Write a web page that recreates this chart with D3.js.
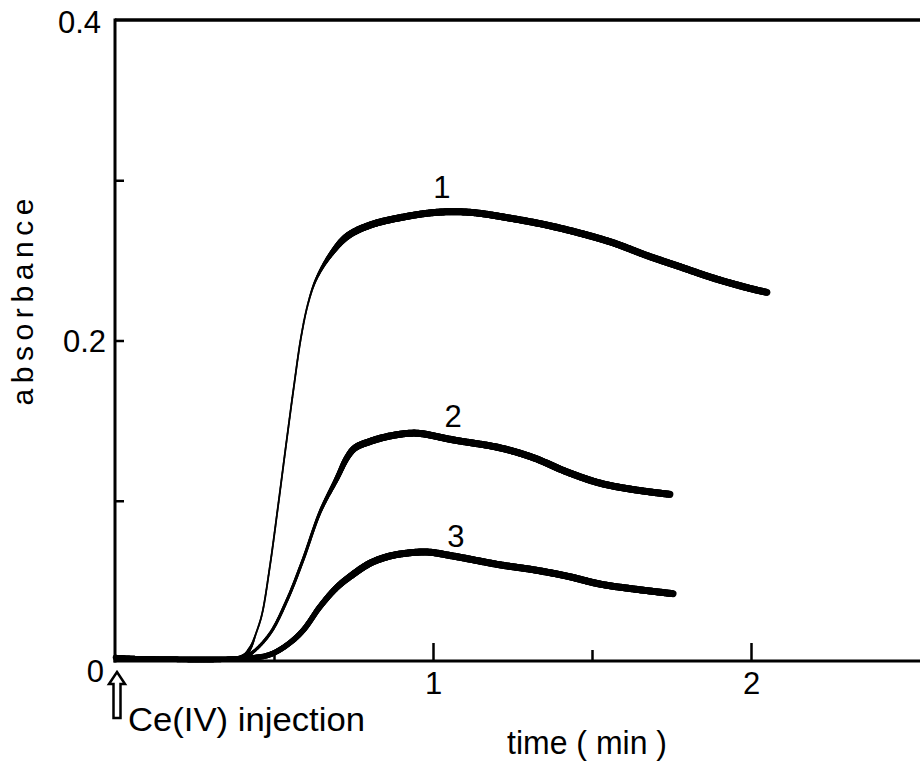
<!DOCTYPE html>
<html>
<head>
<meta charset="utf-8">
<script src="https://cdn.jsdelivr.net/npm/d3@7"></script>
<style>
  html, body { margin: 0; padding: 0; background: #fff; }
  svg { display: block; }
  text { font-family: "Liberation Sans", Arial, sans-serif; fill: #000; }
</style>
</head>
<body>
<svg id="chart" width="920" height="762"></svg>
<script>
// Absorbance traces after Ce(IV) injection (time in min)
const series1Time = [0, 0.40, 0.425, 0.443, 0.462, 0.487, 0.513, 0.538, 0.563, 0.585, 0.607, 0.632, 0.676, 0.730, 0.802, 0.906, 1.013, 1.116, 1.252, 1.358, 1.462, 1.566, 1.673, 1.777, 1.881, 1.987, 2.050];
const series1Abs  = [0.0025, 0.0025, 0.008, 0.017, 0.029, 0.059, 0.097, 0.135, 0.172, 0.202, 0.223, 0.238, 0.253, 0.265, 0.272, 0.277, 0.280, 0.280, 0.276, 0.272, 0.267, 0.261, 0.253, 0.246, 0.239, 0.233, 0.230];

const series2Time = [0, 0.40, 0.43, 0.487, 0.541, 0.591, 0.645, 0.698, 0.730, 0.755, 0.802, 0.855, 0.918, 0.959, 1.063, 1.211, 1.314, 1.421, 1.525, 1.629, 1.745];
const series2Abs  = [0.002, 0.002, 0.005, 0.017, 0.038, 0.063, 0.093, 0.114, 0.127, 0.133, 0.137, 0.140, 0.142, 0.142, 0.138, 0.133, 0.127, 0.118, 0.111, 0.107, 0.104];

const series3Time = [0, 0.43, 0.487, 0.541, 0.591, 0.645, 0.698, 0.748, 0.802, 0.855, 0.906, 0.981, 1.063, 1.211, 1.314, 1.421, 1.525, 1.629, 1.755];
const series3Abs  = [0.002, 0.002, 0.004, 0.010, 0.019, 0.034, 0.046, 0.054, 0.061, 0.065, 0.067, 0.068, 0.0655, 0.060, 0.057, 0.053, 0.048, 0.045, 0.042];

const seriesNames = ["1", "2", "3"];
const xTickValues = [0.5, 1, 1.5, 2];
const xTickLabels = ["", "1", "", "2"];
const yTickValues = [0.1, 0.2, 0.3, 0.4];
const yTickLabels = ["", "0.2", "", "0.4"];

const svg = d3.select("#chart");
const plotLeft = 115, plotTop = 20, plotBottom = 661, plotRight = 920;
const pxPerMin = 318;

const x = d3.scaleLinear().domain([0, (plotRight - plotLeft) / pxPerMin]).range([plotLeft, plotRight]);
const y = d3.scaleLinear().domain([0, 0.4]).range([plotBottom, plotTop]);

// frame: left axis, bottom axis, top rule
const g = svg.append("g");
g.append("line").attr("x1", plotLeft).attr("x2", plotRight).attr("y1", plotTop).attr("y2", plotTop)
  .attr("stroke", "#000").attr("stroke-width", 3.5);

const yAxis = d3.axisLeft(y).tickValues(yTickValues)
  .tickSizeInner(-9).tickSizeOuter(0).tickPadding(9)
  .tickFormat((d, i) => yTickLabels[i]);
const yg = g.append("g").attr("transform", `translate(${plotLeft},0)`).call(yAxis);
yg.select(".domain").attr("stroke-width", 3).attr("d", `M0,${plotTop - 1.5}V${plotBottom + 1.5}`);
yg.selectAll(".tick line").attr("stroke-width", 2.5);
yg.selectAll(".tick text").attr("font-size", 31).attr("font-family", "Liberation Sans, Arial, sans-serif")
  .attr("dy", "0.36em");
yg.selectAll(".tick").filter(d => d === 0.4).select("line").remove();
yg.selectAll(".tick").filter(d => d === 0.4).select("text").attr("x", -14).attr("dy", "0.40em");

const xAxis = d3.axisBottom(x).tickValues(xTickValues)
  .tickSizeInner(-18).tickSizeOuter(0).tickPadding(12)
  .tickFormat((d, i) => xTickLabels[i]);
const xg = g.append("g").attr("transform", `translate(0,${plotBottom})`).call(xAxis);
xg.select(".domain").attr("stroke-width", 3).attr("d", `M${plotLeft - 1.5},0H${plotRight}`);
xg.selectAll(".tick line").attr("stroke-width", 2.5)
  .attr("y2", d => Number.isInteger(d) ? -18 : -11);
xg.selectAll(".tick text").attr("font-size", 31).attr("font-family", "Liberation Sans, Arial, sans-serif")
  .attr("y", 11).attr("dy", "0.71em");

// origin label
svg.append("text").attr("x", plotLeft - 11).attr("y", plotBottom + 21)
  .attr("text-anchor", "end").attr("font-size", 31).text("0");

// axis titles
svg.append("text").attr("x", 507).attr("y", 754)
  .attr("font-size", 34).attr("textLength", 160).attr("lengthAdjust", "spacingAndGlyphs")
  .text("time ( min )");
svg.append("text")
  .attr("transform", "translate(33,302) rotate(-90)")
  .attr("text-anchor", "middle").attr("font-size", 30)
  .attr("textLength", 207).attr("lengthAdjust", "spacing")
  .text("absorbance");

// injection marker
const ax = x(0) + 2;
svg.append("path")
  .attr("d", `M${ax},${plotBottom + 11} L${ax + 8},${plotBottom + 23} L${ax + 3.5},${plotBottom + 23} L${ax + 3.5},${plotBottom + 57} L${ax - 3.5},${plotBottom + 57} L${ax - 3.5},${plotBottom + 23} L${ax - 8},${plotBottom + 23} Z`)
  .attr("fill", "#fff").attr("stroke", "#000").attr("stroke-width", 2.5).attr("stroke-linejoin", "miter");
svg.append("text").attr("x", 128).attr("y", 731)
  .attr("font-size", 34).attr("textLength", 237).attr("lengthAdjust", "spacingAndGlyphs")
  .text("Ce(IV) injection");

// traces: pen weight grows from the fast rise onto the plateau
const series = [
  { name: seriesNames[0], t: series1Time, a: series1Abs, rise: 1.8, plateau: 7, w0: 0.60, w1: 0.74, label: [1.028, 0.289] },
  { name: seriesNames[1], t: series2Time, a: series2Abs, rise: 3.0, plateau: 7, w0: 0.62, w1: 0.78, label: [1.063, 0.146] },
  { name: seriesNames[2], t: series3Time, a: series3Abs, rise: 5.5, plateau: 7, w0: 0.60, w1: 0.80, label: [1.072, 0.071] }
];

const line = d3.line().x(d => x(d[0])).y(d => y(d[1])).curve(d3.curveCatmullRom.alpha(0.5));
const baseEnd = 0.41, baseWidth = 4.5;

series.forEach(s => {
  const pts = s.t.map((t, i) => [t, s.a[i]]);
  const guide = svg.append("path").attr("d", line(pts)).attr("fill", "none").attr("stroke", "none");
  const node = guide.node();
  const total = node.getTotalLength();
  const widthAt = t => {
    if (t < baseEnd) return baseWidth;
    const k = Math.max(0, Math.min(1, (t - s.w0) / (s.w1 - s.w0)));
    const ks = k * k * (3 - 2 * k);
    let w = s.rise + (s.plateau - s.rise) * ks;
    const b = Math.max(0, Math.min(1, (t - baseEnd) / 0.03));
    return baseWidth + (w - baseWidth) * b;
  };
  const samples = d3.range(0, total, 1.2).concat([total]).map(l => node.getPointAtLength(l));
  const trace = svg.append("g").attr("stroke", "#000").attr("stroke-linecap", "round");
  for (let i = 1; i < samples.length; i++) {
    const p0 = samples[i - 1], p1 = samples[i];
    trace.append("line")
      .attr("x1", p0.x).attr("y1", p0.y).attr("x2", p1.x).attr("y2", p1.y)
      .attr("stroke-width", widthAt(x.invert((p0.x + p1.x) / 2)));
  }
  guide.remove();
  svg.append("text").attr("x", x(s.label[0])).attr("y", y(s.label[1]))
    .attr("text-anchor", "middle").attr("font-size", 31).text(s.name);
});
</script>
</body>
</html>
